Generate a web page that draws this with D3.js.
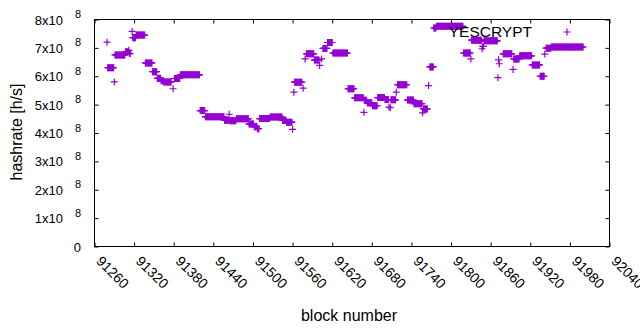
<html>
  <head>
    <meta charset="utf-8">
    <title>YESCRYPT hashrate</title>
    <style>
      body { margin: 0; background: #fff; }
      text { font-family: "Liberation Sans", Arial, sans-serif; fill: #000; }
    </style>
  </head>
  <body>
    <script src="https://cdn.jsdelivr.net/npm/d3@7/dist/d3.min.js" charset="utf-8"></script>
    <script>
      // runs of blocks that share one hashrate value (h/s)
      var runStart = [91279, 91280, 91290, 91291, 91307, 91312, 91313, 91317, 91318, 91323,
                      91337, 91348, 91355, 91361, 91365, 91379, 91381, 91390, 91420, 91428,
                      91457, 91464, 91465, 91475, 91494, 91502, 91507, 91510, 91526, 91545,
                      91551, 91560, 91562, 91563, 91576, 91579, 91581, 91593, 91601, 91604,
                      91606, 91613, 91621, 91644, 91654, 91668, 91669, 91673, 91681, 91689,
                      91700, 91706, 91708, 91709, 91717, 91719, 91734, 91744, 91757, 91758,
                      91766, 91768, 91774, 91778, 91819, 91830, 91831, 91847, 91848, 91850,
                      91871, 91872, 91873, 91879, 91894, 91895, 91904, 91923, 91935, 91942,
                      91944, 91952];
      var runEnd   = [91279, 91289, 91290, 91306, 91311, 91312, 91314, 91317, 91322, 91336,
                      91347, 91354, 91360, 91364, 91376, 91379, 91389, 91419, 91427, 91456,
                      91463, 91464, 91474, 91493, 91501, 91506, 91509, 91525, 91544, 91550,
                      91559, 91560, 91562, 91574, 91576, 91579, 91592, 91600, 91601, 91604,
                      91612, 91620, 91643, 91653, 91667, 91668, 91672, 91680, 91688, 91699,
                      91705, 91706, 91708, 91716, 91717, 91733, 91743, 91756, 91757, 91764,
                      91766, 91773, 91777, 91818, 91829, 91830, 91846, 91847, 91849, 91870,
                      91871, 91872, 91873, 91892, 91894, 91903, 91922, 91934, 91941, 91942,
                      91951, 92000];
      var runValue = [7.20e8, 6.30e8, 5.80e8, 6.75e8, 6.86e8, 6.92e8, 6.80e8, 7.58e8, 7.36e8, 7.45e8,
                      6.47e8, 6.16e8, 5.93e8, 5.84e8, 5.80e8, 5.56e8, 5.92e8, 6.05e8, 4.79e8, 4.57e8,
                      4.45e8, 4.66e8, 4.43e8, 4.50e8, 4.32e8, 4.22e8, 4.15e8, 4.51e8, 4.56e8, 4.44e8,
                      4.38e8, 4.13e8, 5.44e8, 5.79e8, 5.58e8, 6.61e8, 6.79e8, 6.57e8, 6.38e8, 6.61e8,
                      6.98e8, 7.19e8, 6.82e8, 5.56e8, 5.24e8, 4.73e8, 5.15e8, 5.07e8, 4.96e8, 5.25e8,
                      5.18e8, 4.91e8, 4.89e8, 5.17e8, 5.44e8, 5.70e8, 5.16e8, 5.03e8, 4.71e8, 4.85e8,
                      5.67e8, 6.33e8, 7.70e8, 7.76e8, 6.82e8, 6.61e8, 7.27e8, 6.97e8, 7.05e8, 7.25e8,
                      5.95e8, 6.58e8, 6.44e8, 6.79e8, 6.24e8, 6.61e8, 6.72e8, 6.40e8, 6.00e8, 6.78e8,
                      6.99e8, 7.03e8];

      var xTicks = [91260, 91320, 91380, 91440, 91500, 91560, 91620, 91680, 91740, 91800, 91860, 91920, 91980, 92040];
      var yTicks = [0, 1e8, 2e8, 3e8, 4e8, 5e8, 6e8, 7e8, 8e8];
      var seriesName = "YESCRYPT";

      var width = 640, height = 330;
      var color = "#9400d3";
      var pLeft = 94.5, pRight = 609.5, pTop = 19.5, pBottom = 246.5;

      // one point per block
      var data = [];
      for (var i = 0; i < runStart.length; i++) {
        for (var b = runStart[i]; b <= runEnd[i]; b++) {
          data.push([b, runValue[i]]);
        }
      }

      var x = d3.scaleLinear().domain([91260, 92040]).range([pLeft, pRight]);
      var y = d3.scaleLinear().domain([0, 8e8]).range([pBottom, pTop]);

      var svg = d3.select("body")
                  .append("svg")
                  .attr("width", width)
                  .attr("height", height);

      // axes, ticks pointing inward, mirrored on top / right
      svg.append("g")
         .attr("transform", "translate(0," + pBottom + ")")
         .call(d3.axisBottom(x).tickValues(xTicks).tickSize(-4).tickFormat(""));
      svg.append("g")
         .attr("transform", "translate(0," + pTop + ")")
         .call(d3.axisTop(x).tickValues(xTicks).tickSize(-4).tickFormat(""));
      svg.append("g")
         .attr("transform", "translate(" + pLeft + ",0)")
         .call(d3.axisLeft(y).tickValues(yTicks).tickSize(-4).tickFormat(""));
      svg.append("g")
         .attr("transform", "translate(" + pRight + ",0)")
         .call(d3.axisRight(y).tickValues(yTicks).tickSize(-4).tickFormat(""));
      svg.selectAll(".domain").remove();
      svg.selectAll(".tick line").attr("stroke", "#000");

      svg.append("rect")
         .attr("x", pLeft).attr("y", pTop)
         .attr("width", pRight - pLeft).attr("height", pBottom - pTop)
         .attr("fill", "none").attr("stroke", "#000").attr("stroke-width", 1);

      // x tick labels, rotated
      svg.selectAll(".xlab")
         .data(xTicks)
         .enter()
         .append("text")
         .attr("class", "xlab")
         .attr("transform", d => "translate(" + (x(d) + 1) + ",262) rotate(45)")
         .attr("font-size", 14)
         .text(d => d);

      // y tick labels: Nx10^8
      var yl = svg.selectAll(".ylab")
                  .data(yTicks)
                  .enter()
                  .append("g")
                  .attr("class", "ylab")
                  .attr("transform", d => "translate(0," + y(d) + ")");
      yl.append("text")
        .attr("x", d => d === 0 ? 81 : 63)
        .attr("y", 5)
        .attr("text-anchor", "end")
        .attr("font-size", 13)
        .text(d => d === 0 ? "0" : (d / 1e8) + "x10");
      yl.filter(d => d !== 0)
        .append("text")
        .attr("x", 81)
        .attr("y", -1.5)
        .attr("text-anchor", "end")
        .attr("font-size", 11)
        .text("8");

      // axis titles
      svg.append("text")
         .attr("transform", "translate(22,132) rotate(-90)")
         .attr("text-anchor", "middle")
         .attr("font-size", 16)
         .text("hashrate [h/s]");
      svg.append("text")
         .attr("x", 349).attr("y", 321)
         .attr("text-anchor", "middle")
         .attr("font-size", 16)
         .text("block number");

      // points drawn as +
      var plus = "M-3.5,0h7M0,-3.5v7";
      svg.selectAll(".pt")
         .data(data)
         .enter()
         .append("path")
         .attr("class", "pt")
         .attr("d", plus)
         .attr("transform", d => "translate(" + x(d[0]) + "," + y(d[1]) + ")")
         .attr("fill", "none")
         .attr("stroke", color)
         .attr("stroke-width", 1.2);

      // key
      svg.append("text")
         .attr("x", 532).attr("y", 37)
         .attr("text-anchor", "end")
         .attr("font-size", 15.5)
         .text(seriesName);
      svg.append("path")
         .attr("d", plus)
         .attr("transform", "translate(567,32)")
         .attr("fill", "none")
         .attr("stroke", color)
         .attr("stroke-width", 1.2);
    </script>
  </body>
</html>
